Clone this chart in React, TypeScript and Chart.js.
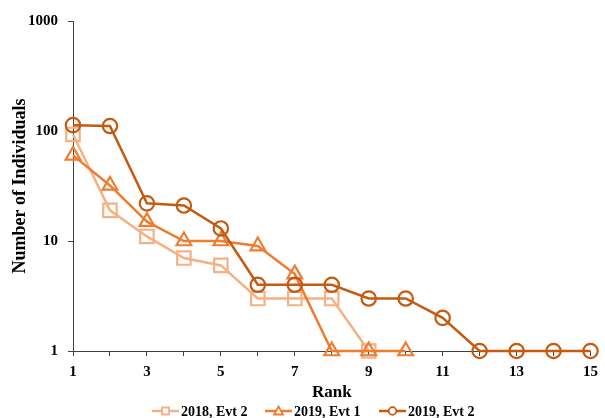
import React, { useEffect, useRef } from "react";
import { Chart, registerables } from "chart.js";

Chart.register(...registerables);

const ranks = [1, 2, 3, 4, 5, 6, 7, 8, 9, 10, 11, 12, 13, 14, 15];
const seriesNames = ["2018, Evt 2", "2019, Evt 1", "2019, Evt 2"];
const s2018Evt2 = [93, 19, 11, 7, 6, 3, 3, 3, 1];
const s2019Evt1 = [60, 32, 15, 10, 10, 9, 5, 1, 1, 1];
const s2019Evt2 = [113, 111, 22, 21, 13, 4, 4, 4, 3, 3, 2, 1, 1, 1, 1];
const yTickValues = [1, 10, 100, 1000];
const colors = ["#F4B183", "#ED7D31", "#C55A11"];
const pointStyles = ["rect", "triangle", "circle"];

const FONT = "'Liberation Serif', 'Times New Roman', serif";

function toPoints(vals: number[]) {
  return vals.map((v, i) => ({ x: ranks[i], y: v }));
}

const legendPlugin = {
  id: "customLegend",
  afterDraw(chart: any) {
    const ctx = chart.ctx;
    ctx.save();
    const y = 411;
    const starts = [152, 265, 379];
    ctx.font = `bold 14px ${FONT}`;
    ctx.textBaseline = "middle";
    ctx.textAlign = "left";
    seriesNames.forEach((name, i) => {
      const x0 = starts[i];
      const col = colors[i];
      ctx.strokeStyle = col;
      ctx.lineWidth = 2.5;
      ctx.beginPath();
      ctx.moveTo(x0, y);
      ctx.lineTo(x0 + 27, y);
      ctx.stroke();
      const cx = x0 + 13.5;
      ctx.lineWidth = 1.8;
      ctx.fillStyle = "#ffffff";
      ctx.beginPath();
      if (pointStyles[i] === "rect") {
        ctx.rect(cx - 3.5, y - 3.5, 7, 7);
      } else if (pointStyles[i] === "triangle") {
        ctx.moveTo(cx, y - 4.5);
        ctx.lineTo(cx + 4.5, y + 3.5);
        ctx.lineTo(cx - 4.5, y + 3.5);
        ctx.closePath();
      } else {
        ctx.arc(cx, y, 3.8, 0, Math.PI * 2);
      }
      ctx.fill();
      ctx.stroke();
      ctx.fillStyle = "#000000";
      ctx.fillText(name, x0 + 29, y + 1);
    });
    ctx.restore();
  },
};

export default function App() {
  const ref = useRef<HTMLCanvasElement | null>(null);

  useEffect(() => {
    if (!ref.current) return;
    const allData = [s2018Evt2, s2019Evt1, s2019Evt2];
    const chart = new Chart(ref.current, {
      type: "line",
      data: {
        datasets: allData.map((vals, i) => ({
          label: seriesNames[i],
          data: toPoints(vals),
          borderColor: colors[i],
          backgroundColor: "rgba(0,0,0,0)",
          borderWidth: 2.5,
          pointStyle: pointStyles[i] as any,
          pointRadius: i === 0 ? 9.5 : i === 1 ? 8.5 : 7.2,
          pointBorderWidth: 2.2,
          pointBorderColor: colors[i],
          pointBackgroundColor: "rgba(0,0,0,0)",
          tension: 0,
          clip: false as any,
          order: 3 - i,
        })),
      },
      options: {
        animation: false,
        responsive: false,
        events: [],
        layout: { padding: { top: 21, right: 8, left: 0, bottom: 0 } },
        plugins: {
          legend: { display: false },
          tooltip: { enabled: false },
        },
        scales: {
          x: {
            type: "linear",
            min: 1,
            max: 15,
            afterFit: (s: any) => {
              s.height = 67;
            },
            border: { display: true, color: "#404040", width: 1 },
            grid: {
              drawOnChartArea: false,
              drawTicks: true,
              tickLength: 5,
              color: "#404040",
            },
            ticks: {
              stepSize: 1,
              autoSkip: false,
              maxRotation: 0,
              padding: 7,
              color: "#000000",
              font: { family: FONT, size: 15, weight: "bold" },
              callback: (v: any) => (Number(v) % 2 === 1 ? String(v) : ""),
            },
            title: {
              display: true,
              text: "Rank",
              color: "#000000",
              font: { family: FONT, size: 17, weight: "bold" },
              padding: { top: 0, bottom: 15 },
            },
          },
          y: {
            type: "logarithmic",
            min: 1,
            max: 1000,
            afterFit: (s: any) => {
              s.width = 73;
            },
            afterBuildTicks: (s: any) => {
              s.ticks = yTickValues.map((v) => ({ value: v }));
            },
            border: { display: true, color: "#404040", width: 1 },
            grid: {
              drawOnChartArea: false,
              drawTicks: true,
              tickLength: 5,
              color: "#404040",
            },
            ticks: {
              padding: 10,
              color: "#000000",
              font: { family: FONT, size: 15, weight: "bold" },
              callback: (v: any) => String(v),
            },
            title: {
              display: true,
              text: "Number of Individuals",
              color: "#000000",
              font: { family: FONT, size: 18, weight: "bold" },
              padding: { top: 10, bottom: 0 },
            },
          },
        },
      },
      plugins: [legendPlugin],
    });
    return () => chart.destroy();
  }, []);

  return (
    <canvas
      ref={ref}
      width={605}
      height={418}
      style={{ position: "fixed", left: 0, top: 0, display: "block", background: "#ffffff" }}
    />
  );
}
